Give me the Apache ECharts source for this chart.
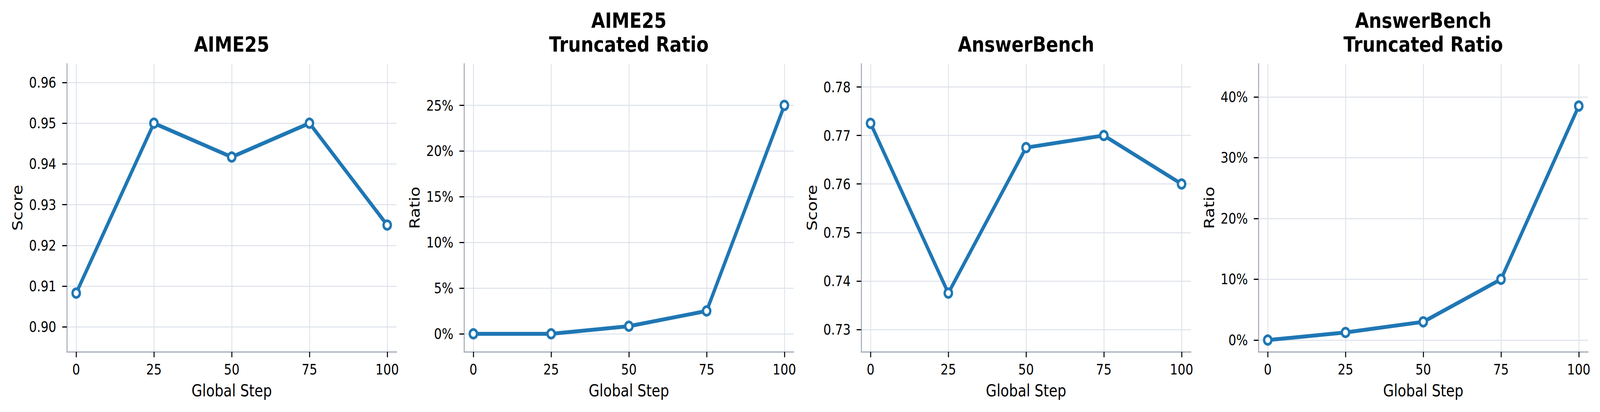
<!DOCTYPE html>
<html>
<head>
<meta charset="utf-8">
<script src="https://cdn.jsdelivr.net/npm/echarts@6/dist/echarts.min.js"></script>
<style>
  html, body { margin: 0; padding: 0; background: #fff; overflow: hidden; }
  #wrap { position: relative; width: 100vw; height: 100vh; overflow: hidden; }
  #chart { position: absolute; left: 0; top: 0; width: 4834px; height: 1054px; transform-origin: 0 0; }
</style>
</head>
<body>
<div id="wrap"><div id="chart"></div></div>
<script>
// data
const steps = [0, 25, 50, 75, 100]
const aimeScore = [0.9083, 0.95, 0.9417, 0.95, 0.925]
const aimeTrunc = [0, 0, 0.0083, 0.025, 0.25]
const answerScore = [0.7725, 0.7375, 0.7675, 0.77, 0.76]
const answerTrunc = [0, 0.0125, 0.03, 0.10, 0.385]

const aimeScoreTicks = [0.90, 0.91, 0.92, 0.93, 0.94, 0.95, 0.96]
const aimeTruncTicks = [0, 0.05, 0.10, 0.15, 0.20, 0.25]
const answerScoreTicks = [0.73, 0.74, 0.75, 0.76, 0.77, 0.78]
const answerTruncTicks = [0, 0.10, 0.20, 0.30, 0.40]

const titles = ['AIME25', 'AIME25\nTruncated Ratio', 'AnswerBench', 'AnswerBench\nTruncated Ratio']
const yNames = ['Score', 'Ratio', 'Score', 'Ratio']

const BLUE = '#1f77b4'
const FONT = 'DejaVu Sans'

const panels = [
  { data: aimeScore, ticks: aimeScoreTicks, min: 0.8939, max: 0.9646, fmt: v => v.toFixed(2) },
  { data: aimeTrunc, ticks: aimeTruncTicks, min: -0.0197, max: 0.2956, fmt: v => Math.round(v * 100) + '%' },
  { data: answerScore, ticks: answerScoreTicks, min: 0.7254, max: 0.7848, fmt: v => v.toFixed(2) },
  { data: answerTrunc, ticks: answerTruncTicks, min: -0.0193, max: 0.4547, fmt: v => Math.round(v * 100) + '%' }
]

const lefts = [202, 1402, 2602, 3802]
const plotW = 996
const plotTop = 163
const plotH = 737

// laid out at 4834x1054, then stretched onto the real viewport
const dom = document.getElementById('chart')
const sx = window.innerWidth / 4834
const sy = window.innerHeight / 1054
dom.style.transform = 'scale(' + sx + ',' + sy + ')'

const chart = echarts.init(dom, null, { renderer: 'svg' })

const option = {
  backgroundColor: '#fff',
  animation: false,
  title: [],
  grid: [],
  xAxis: [],
  yAxis: [],
  series: []
}

panels.forEach((p, i) => {
  const twoLine = titles[i].indexOf('\n') >= 0
  option.title.push({
    text: titles[i],
    left: lefts[i] + plotW / 2,
    textAlign: 'center',
    top: twoLine ? 22 : 83,
    padding: 0,
    textStyle: { fontFamily: FONT, fontWeight: 'bold', fontSize: 54, lineHeight: 61, color: '#000' }
  })
  option.grid.push({ left: lefts[i], top: plotTop, width: plotW, height: plotH, containLabel: false })
  option.xAxis.push({
    type: 'value',
    gridIndex: i,
    min: -3,
    max: 103,
    name: 'Global Step',
    nameLocation: 'middle',
    nameGap: 78,
    nameTextStyle: { fontFamily: FONT, fontSize: 42, color: '#000' },
    axisLine: { show: true, onZero: false, lineStyle: { color: '#a3aab8', width: 3 } },
    axisTick: { show: true, customValues: steps, length: 14, lineStyle: { color: '#000', width: 3 } },
    axisLabel: { customValues: steps, margin: 27, fontFamily: FONT, fontSize: 37, color: '#000' },
    splitLine: { show: true, lineStyle: { color: '#dde1ea', width: 2.5 } }
  })
  option.yAxis.push({
    type: 'value',
    gridIndex: i,
    min: p.min,
    max: p.max,
    name: yNames[i],
    nameLocation: 'middle',
    nameGap: 128,
    nameTextStyle: { fontFamily: FONT, fontSize: 42, color: '#000' },
    axisLine: { show: true, onZero: false, lineStyle: { color: '#a3aab8', width: 3 } },
    axisTick: { show: true, customValues: p.ticks, length: 14, lineStyle: { color: '#000', width: 3 } },
    axisLabel: { customValues: p.ticks, margin: 32, fontFamily: FONT, fontSize: 37, color: '#000', formatter: p.fmt },
    splitLine: { show: true, lineStyle: { color: '#dde1ea', width: 2.5 } }
  })
  option.series.push({
    type: 'line',
    xAxisIndex: i,
    yAxisIndex: i,
    data: steps.map((x, k) => [x, p.data[k]]),
    symbol: 'circle',
    symbolSize: 22,
    clip: false,
    lineStyle: { color: BLUE, width: 10 },
    itemStyle: { color: '#fff', borderColor: BLUE, borderWidth: 7 }
  })
})

chart.setOption(option)
</script>
</body>
</html>
